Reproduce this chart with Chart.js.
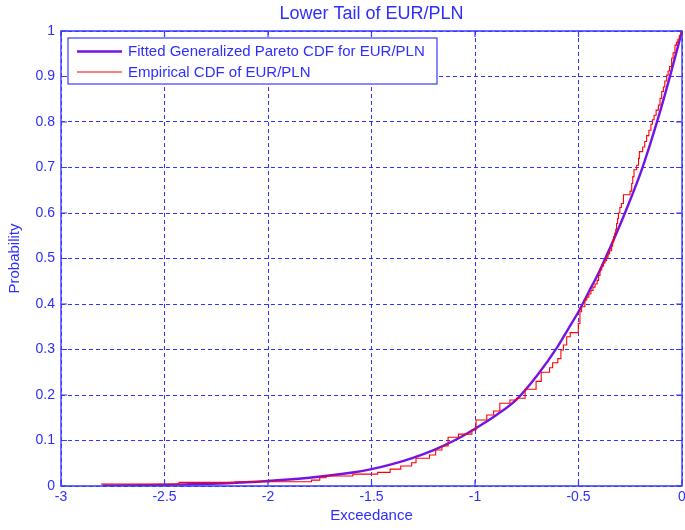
<!DOCTYPE html>
<html>
<head>
<meta charset="utf-8">
<title>Lower Tail of EUR/PLN</title>
<script src="https://cdn.jsdelivr.net/npm/chart.js@4.4.1/dist/chart.umd.min.js"></script>
<style>
  html, body { margin: 0; padding: 0; background: #ffffff; }
  canvas { display: block; }
</style>
</head>
<body>
<canvas id="c" width="685" height="530"></canvas>
<script>
// Fitted generalized Pareto CDF (exceedance, probability)
const fitX = [-2.8, -2.6, -2.4, -2.2, -2.0, -1.8, -1.6, -1.5, -1.4, -1.3, -1.2, -1.1, -1.0,
              -0.9, -0.8, -0.7, -0.6, -0.55, -0.5, -0.45, -0.4, -0.35, -0.3, -0.25, -0.2,
              -0.15, -0.1, -0.05, 0];
const fitP = [0.001, 0.002, 0.0035, 0.006, 0.011, 0.018, 0.029, 0.037, 0.048, 0.062, 0.079, 0.1, 0.126,
              0.155, 0.19, 0.243, 0.307, 0.345, 0.383, 0.427, 0.471, 0.521, 0.573, 0.629, 0.688,
              0.757, 0.832, 0.914, 1.0];

// Empirical CDF: sorted exceedances and the cumulative level reached at each one
const empX = [-2.807, -2.43, -2.157, -1.79, -1.75, -1.72, -1.59, -1.47, -1.41, -1.359, -1.306, -1.285,
              -1.22, -1.19, -1.16, -1.13, -1.08, -1.015, -0.995, -0.943, -0.91, -0.88, -0.831, -0.799,
              -0.758, -0.705, -0.68, -0.64, -0.625, -0.60, -0.585, -0.573, -0.557, -0.54, -0.501, -0.493,
              -0.485, -0.469, -0.46, -0.45, -0.44, -0.43, -0.42, -0.41, -0.403, -0.396, -0.388, -0.38,
              -0.372, -0.364, -0.357, -0.35, -0.34, -0.335, -0.33, -0.325, -0.32, -0.316, -0.311, -0.307,
              -0.30, -0.293, -0.283, -0.251, -0.243, -0.238, -0.232, -0.219, -0.21, -0.206, -0.19, -0.18,
              -0.171, -0.16, -0.15, -0.143, -0.135, -0.125, -0.114, -0.106, -0.098, -0.09, -0.083, -0.074,
              -0.067, -0.06, -0.05, -0.043, -0.034, -0.027, -0.02, -0.013, -0.005, -0.002];
const empP = [0.0045, 0.008, 0.0095, 0.013, 0.018, 0.022, 0.026, 0.030, 0.037, 0.044, 0.051, 0.061,
              0.068, 0.079, 0.088, 0.107, 0.114, 0.123, 0.145, 0.156, 0.165, 0.182, 0.189, 0.193,
              0.2125, 0.23, 0.25, 0.26, 0.271, 0.28, 0.299, 0.31, 0.328, 0.337, 0.357, 0.383,
              0.394, 0.409, 0.415, 0.422, 0.43, 0.437, 0.444, 0.452, 0.463, 0.475, 0.483, 0.49,
              0.495, 0.503, 0.51, 0.517, 0.527, 0.537, 0.548, 0.556, 0.564, 0.577, 0.588, 0.60,
              0.612, 0.621, 0.64, 0.648, 0.665, 0.68, 0.695, 0.705, 0.72, 0.735, 0.745, 0.757,
              0.77, 0.782, 0.795, 0.805, 0.815, 0.826, 0.837, 0.852, 0.867, 0.877, 0.89, 0.903,
              0.912, 0.922, 0.94, 0.952, 0.969, 0.975, 0.982, 0.99, 0.998, 1.0];

const seriesNames = ['Fitted Generalized Pareto CDF for EUR/PLN', 'Empirical CDF of EUR/PLN'];
const chartTitle = 'Lower Tail of EUR/PLN';
const xAxisTitle = 'Exceedance';
const yAxisTitle = 'Probability';

const xTicks = [-3, -2.5, -2, -1.5, -1, -0.5, 0];
const xTickLabels = ['-3', '-2.5', '-2', '-1.5', '-1', '-0.5', '0'];
const yTicks = [0, 0.1, 0.2, 0.3, 0.4, 0.5, 0.6, 0.7, 0.8, 0.9, 1];
const yTickLabels = ['0', '0.1', '0.2', '0.3', '0.4', '0.5', '0.6', '0.7', '0.8', '0.9', '1'];

const TEXT = '#2e2eff';
const AXIS = '#3a3aff';
const GRID = '#3030ff';
const FIT_COLOR = '#7314e6';
const EMP_COLOR = '#ff0000';
const FONT = '"Liberation Sans", Arial, Helvetica, sans-serif';

const toPoints = (xs, ys) => xs.map((v, i) => ({x: v, y: ys[i]}));

// Axes box with inward tick marks, the title and an in-plot legend
const framePlugin = {
  id: 'frame',
  afterDatasetsDraw(chart) {
    const {ctx, chartArea: a, scales: {x, y}} = chart;
    const tl = 6;
    ctx.save();
    ctx.strokeStyle = AXIS;
    ctx.lineWidth = 1.4;
    ctx.setLineDash([]);
    ctx.beginPath();
    ctx.rect(a.left, a.top, a.right - a.left, a.bottom - a.top);
    ctx.stroke();

    ctx.lineWidth = 1.2;
    ctx.beginPath();
    xTicks.forEach(v => {
      const px = x.getPixelForValue(v);
      ctx.moveTo(px, a.bottom); ctx.lineTo(px, a.bottom - tl);
      ctx.moveTo(px, a.top); ctx.lineTo(px, a.top + tl);
    });
    yTicks.forEach(v => {
      const py = y.getPixelForValue(v);
      ctx.moveTo(a.left, py); ctx.lineTo(a.left + tl, py);
      ctx.moveTo(a.right, py); ctx.lineTo(a.right - tl, py);
    });
    ctx.stroke();

    // legend
    const lx = 68, ly = 38, lw = 369, lh = 46;
    ctx.fillStyle = '#ffffff';
    ctx.fillRect(lx, ly, lw, lh);
    ctx.lineWidth = 1.2;
    ctx.strokeStyle = AXIS;
    ctx.strokeRect(lx, ly, lw, lh);
    const rows = [51.5, 72];
    chart.data.datasets.forEach((ds, i) => {
      ctx.strokeStyle = ds.borderColor;
      ctx.lineWidth = ds.borderWidth;
      ctx.beginPath();
      ctx.moveTo(77, rows[i]);
      ctx.lineTo(122, rows[i]);
      ctx.stroke();
      ctx.fillStyle = TEXT;
      ctx.font = '15px ' + FONT;
      ctx.textAlign = 'left';
      ctx.textBaseline = 'middle';
      ctx.fillText(ds.label, 128, rows[i] + 0.5);
    });

    // title
    ctx.fillStyle = TEXT;
    ctx.font = '18px ' + FONT;
    ctx.textAlign = 'center';
    ctx.textBaseline = 'middle';
    ctx.fillText(chartTitle, (a.left + a.right) / 2, 14);
    ctx.restore();
  }
};

new Chart(document.getElementById('c'), {
  type: 'scatter',
  data: {
    datasets: [
      {
        label: seriesNames[0],
        data: toPoints(fitX, fitP),
        showLine: true,
        borderColor: FIT_COLOR,
        backgroundColor: FIT_COLOR,
        borderWidth: 2.4,
        pointRadius: 0,
        cubicInterpolationMode: 'monotone',
        order: 2
      },
      {
        label: seriesNames[1],
        data: toPoints(empX, empP),
        showLine: true,
        stepped: true,
        borderColor: EMP_COLOR,
        backgroundColor: EMP_COLOR,
        borderWidth: 1.1,
        pointRadius: 0,
        order: 1
      }
    ]
  },
  options: {
    responsive: false,
    animation: false,
    devicePixelRatio: 1,
    layout: { padding: { left: 0, right: 3, top: 31, bottom: 0 } },
    plugins: {
      legend: { display: false },
      title: { display: false },
      tooltip: { enabled: false }
    },
    scales: {
      x: {
        type: 'linear',
        min: -3,
        max: 0,
        afterBuildTicks: s => { s.ticks = xTicks.map(v => ({value: v})); },
        afterFit: s => { s.height = 44; s.paddingLeft = 0; s.paddingRight = 0; },
        ticks: {
          color: TEXT,
          font: { family: FONT, size: 14 },
          padding: 3,
          maxRotation: 0,
          autoSkip: false,
          callback: (v, i) => xTickLabels[i]
        },
        grid: { color: GRID, lineWidth: 1, drawTicks: false },
        border: { display: false, dash: [4, 3] },
        title: {
          display: true,
          text: xAxisTitle,
          color: TEXT,
          font: { family: FONT, size: 15 },
          padding: { top: 0, bottom: 5 }
        }
      },
      y: {
        type: 'linear',
        min: 0,
        max: 1,
        afterBuildTicks: s => { s.ticks = yTicks.map(v => ({value: v})); },
        afterFit: s => { s.width = 61; s.paddingTop = 0; s.paddingBottom = 0; },
        ticks: {
          color: TEXT,
          font: { family: FONT, size: 14 },
          padding: 6,
          autoSkip: false,
          callback: (v, i) => yTickLabels[i]
        },
        grid: { color: GRID, lineWidth: 1, drawTicks: false },
        border: { display: false, dash: [4, 3] },
        title: {
          display: true,
          text: yAxisTitle,
          color: TEXT,
          font: { family: FONT, size: 15 },
          padding: { top: 6, bottom: 0 }
        }
      }
    }
  },
  plugins: [framePlugin]
});
</script>
</body>
</html>
